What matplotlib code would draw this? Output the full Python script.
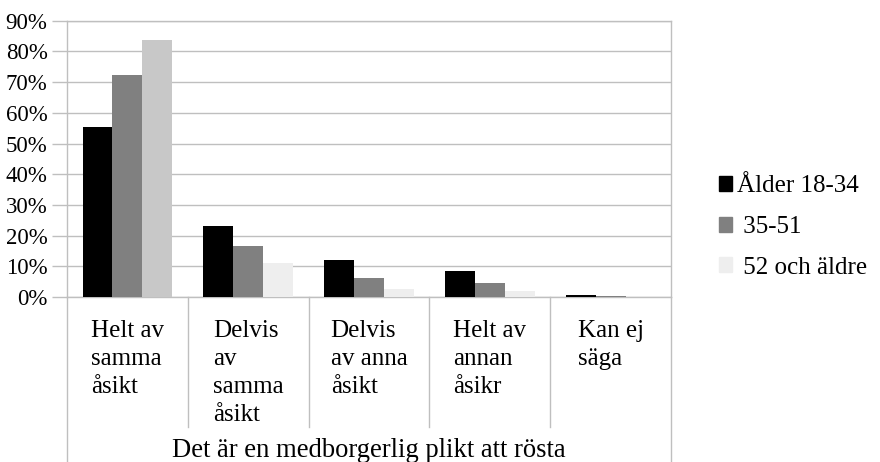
import matplotlib.pyplot as plt
import numpy as np
from matplotlib.patches import Patch
from matplotlib.ticker import FuncFormatter, MultipleLocator

plt.rcParams["font.family"] = ["Liberation Serif", "DejaVu Serif"]

categories = ["Helt av\nsamma\nåsikt", "Delvis\nav\nsamma\nåsikt", "Delvis\nav anna\nåsikt",
              "Helt av\nannan\nåsikr", "Kan ej\nsäga"]
group_title = "Det är en medborgerlig plikt att rösta"
series_names = ["Ålder 18-34", " 35-51", " 52 och äldre"]
age_18_34 = [55.4, 23.1, 12.1, 8.6, 0.6]
age_35_51 = [72.4, 16.6, 6.2, 4.6, 0.3]
age_52_up = [83.8, 11.1, 2.6, 2.0, 0.1]

GRID = "#BFBFBF"
colors = ["#000000", "#808080", "#EEEEEE"]
# the first group's oldest bar is drawn darker in the original
light_bars = ["#C8C8C8", "#EEEEEE", "#EEEEEE", "#EEEEEE", "#EEEEEE"]

W, H = 880, 462
fig = plt.figure(figsize=(W / 100, H / 100), dpi=100)
ax_l, ax_r, ax_b, ax_t = 67, 671, 297, 20.7
ax = fig.add_axes([ax_l / W, 1 - ax_b / H, (ax_r - ax_l) / W, (ax_b - ax_t) / H])

x = np.arange(len(categories))
bw = 0.247
ax.bar(x - bw, age_18_34, bw, color=colors[0], zorder=3)
ax.bar(x, age_35_51, bw, color=colors[1], zorder=3)
ax.bar(x + bw, age_52_up, bw, color=light_bars, zorder=3)

ax.set_xlim(-0.5, len(categories) - 0.5)
ax.set_ylim(0, 90)
ax.yaxis.set_major_locator(MultipleLocator(10))
ax.yaxis.set_major_formatter(FuncFormatter(lambda v, _: f"{v:.0f}%"))
ax.grid(axis="y", color=GRID, lw=1.0, zorder=0)
ax.set_xticks([])
ax.tick_params(axis="y", length=11, color=GRID, width=1.0, pad=3, labelsize=16.5)
for s in ["left", "right", "bottom", "top"]:
    ax.spines[s].set_color(GRID)
    ax.spines[s].set_linewidth(1.0)

# multi-level category axis below the plot
px = 1 / (ax_b - ax_t)
trans = ax.get_xaxis_transform()
for i in range(len(categories) + 1):
    edge = i - 0.5
    outer = i in (0, len(categories))
    y_end = -(462 - ax_b) * px if outer else -(427 - ax_b) * px
    ax.plot([edge, edge], [0, y_end], transform=trans, color=GRID, lw=1.0, clip_on=False)
for i, lab in enumerate(categories):
    ax.text(i, -23 * px, lab, transform=trans, ha="center", va="top", multialignment="left",
            fontsize=18, linespacing=1.36)
ax.text((len(categories) - 1) / 2, -(457 - ax_b) * px, group_title, transform=trans,
        ha="center", va="baseline", fontsize=19.2)

handles = [Patch(color=c) for c in colors]
fig.legend(handles, series_names, loc="center left", bbox_to_anchor=(706 / W, 1 - 227 / H),
           frameon=False, fontsize=18, handlelength=0.55, handleheight=0.55,
           handletextpad=0.2, labelspacing=0.75, borderpad=0)

fig.savefig("out.png", dpi=100)
